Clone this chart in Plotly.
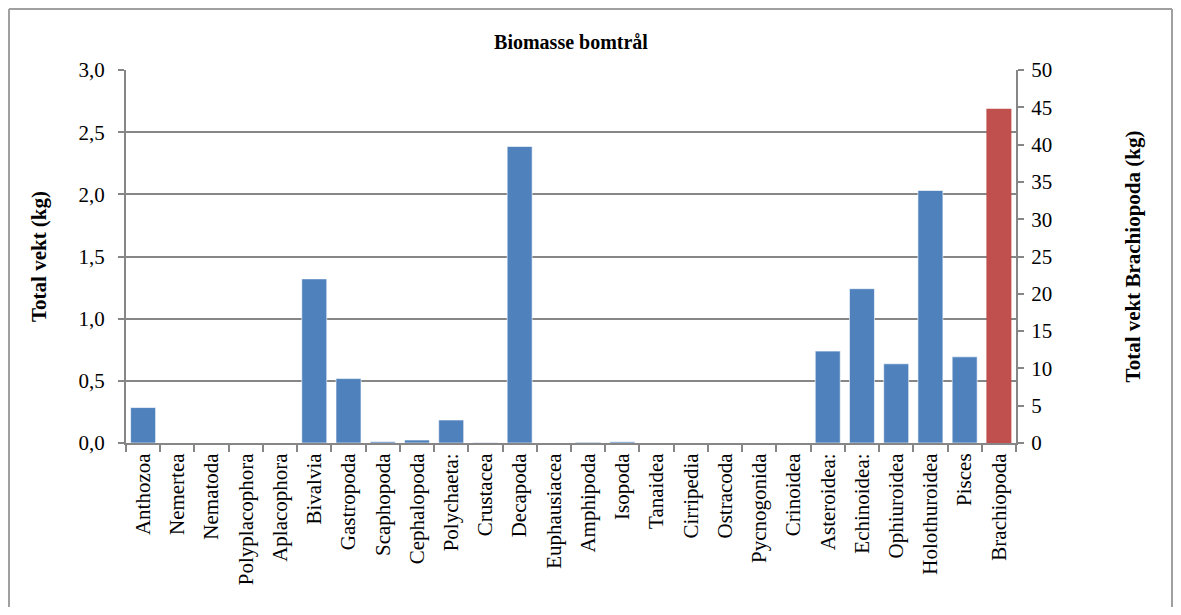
import plotly.graph_objects as go

# data
categories = ["Anthozoa", "Nemertea", "Nematoda", "Polyplacophora", "Aplacophora",
              "Bivalvia", "Gastropoda", "Scaphopoda", "Cephalopoda", "Polychaeta:",
              "Crustacea", "Decapoda", "Euphausiacea", "Amphipoda", "Isopoda",
              "Tanaidea", "Cirripedia", "Ostracoda", "Pycnogonida", "Crinoidea",
              "Asteroidea:", "Echinoidea:", "Ophiuroidea", "Holothuroidea", "Pisces",
              "Brachiopoda"]
vekt_kg = [0.285, 0, 0, 0, 0,
           1.32, 0.518, 0.011, 0.024, 0.185,
           0.004, 2.385, 0, 0.006, 0.01,
           0, 0, 0, 0, 0,
           0.739, 1.241, 0.637, 2.031, 0.693,
           0]
brachio_cat = ["Brachiopoda"]
brachio_kg = [44.8]

left_ticks = [0, 0.5, 1.0, 1.5, 2.0, 2.5, 3.0]
right_ticks = list(range(0, 55, 5))

font = "Liberation Serif, Times New Roman, serif"
grey = "#868686"

# page body adds 8px around the figure, so draw it smaller to avoid scrollbars
W, H = 1173, 599
L, T, R, B = 118, 62, 165, 164
pw, ph = W - L - R, H - T - B

fig = go.Figure()
fig.add_trace(go.Bar(x=categories, y=vekt_kg, name="Total vekt",
                     marker=dict(color="#4F81BD", line=dict(color="rgba(255,255,255,0.6)", width=1))))
fig.add_trace(go.Bar(x=brachio_cat, y=brachio_kg, name="Brachiopoda", yaxis="y2",
                     marker=dict(color="#C0504D", line=dict(width=0))))

fig.update_layout(
    width=W, height=H,
    margin=dict(l=L, r=R, t=T, b=B),
    paper_bgcolor="white", plot_bgcolor="white",
    separators=", ",
    showlegend=False,
    barmode="overlay", bargap=0.27,
    font=dict(family=font, size=21, color="black"),
    title=dict(text="<b>Biomasse bomtrål</b>", x=0.5, xref="paper",
               y=1 - 34 / H, yanchor="middle", font=dict(size=20)),
    xaxis=dict(categoryorder="array", categoryarray=categories,
               tickangle=-90, ticks="outside", tickson="boundaries", ticklen=7,
               tickcolor=grey, tickwidth=2, showline=True, linecolor=grey, linewidth=2,
               tickfont=dict(size=21), showgrid=False),
    yaxis=dict(range=[0, 3], tickvals=left_ticks, tickformat=".1f",
               ticks="outside", ticklen=6, tickcolor=grey, tickwidth=2,
               showline=True, linecolor=grey, linewidth=2, ticklabelstandoff=9,
               showgrid=True, gridcolor=grey, gridwidth=2, zeroline=False,
               tickfont=dict(size=21),
               title=dict(text="<b>Total vekt (kg)</b>", standoff=26, font=dict(size=21))),
    yaxis2=dict(range=[0, 50], tickvals=right_ticks, overlaying="y", side="right",
                ticks="outside", ticklen=6, tickcolor=grey, tickwidth=2,
                showline=True, linecolor=grey, linewidth=2, showgrid=False, zeroline=False,
                ticklabelstandoff=3, tickfont=dict(size=21),
                title=dict(text="<b>Total vekt Brachiopoda (kg)</b>", standoff=74, font=dict(size=21))),
)

# chart area border (top, left and right edges visible in the original)
bx0 = (1 - L) / pw
bx1 = (1164 - L) / pw
by = (T + ph - 1) / ph
ybot = -B / ph
fig.add_shape(type="line", xref="paper", yref="paper",
              x0=bx0, x1=bx1, y0=by, y1=by, line=dict(color="#A0A0A0", width=2))
fig.add_shape(type="line", xref="paper", yref="paper",
              x0=bx0, x1=bx0, y0=by, y1=ybot, line=dict(color="#A0A0A0", width=2))
fig.add_shape(type="line", xref="paper", yref="paper",
              x0=bx1, x1=bx1, y0=by, y1=ybot, line=dict(color="#A0A0A0", width=2))

fig.write_html("out.html")
